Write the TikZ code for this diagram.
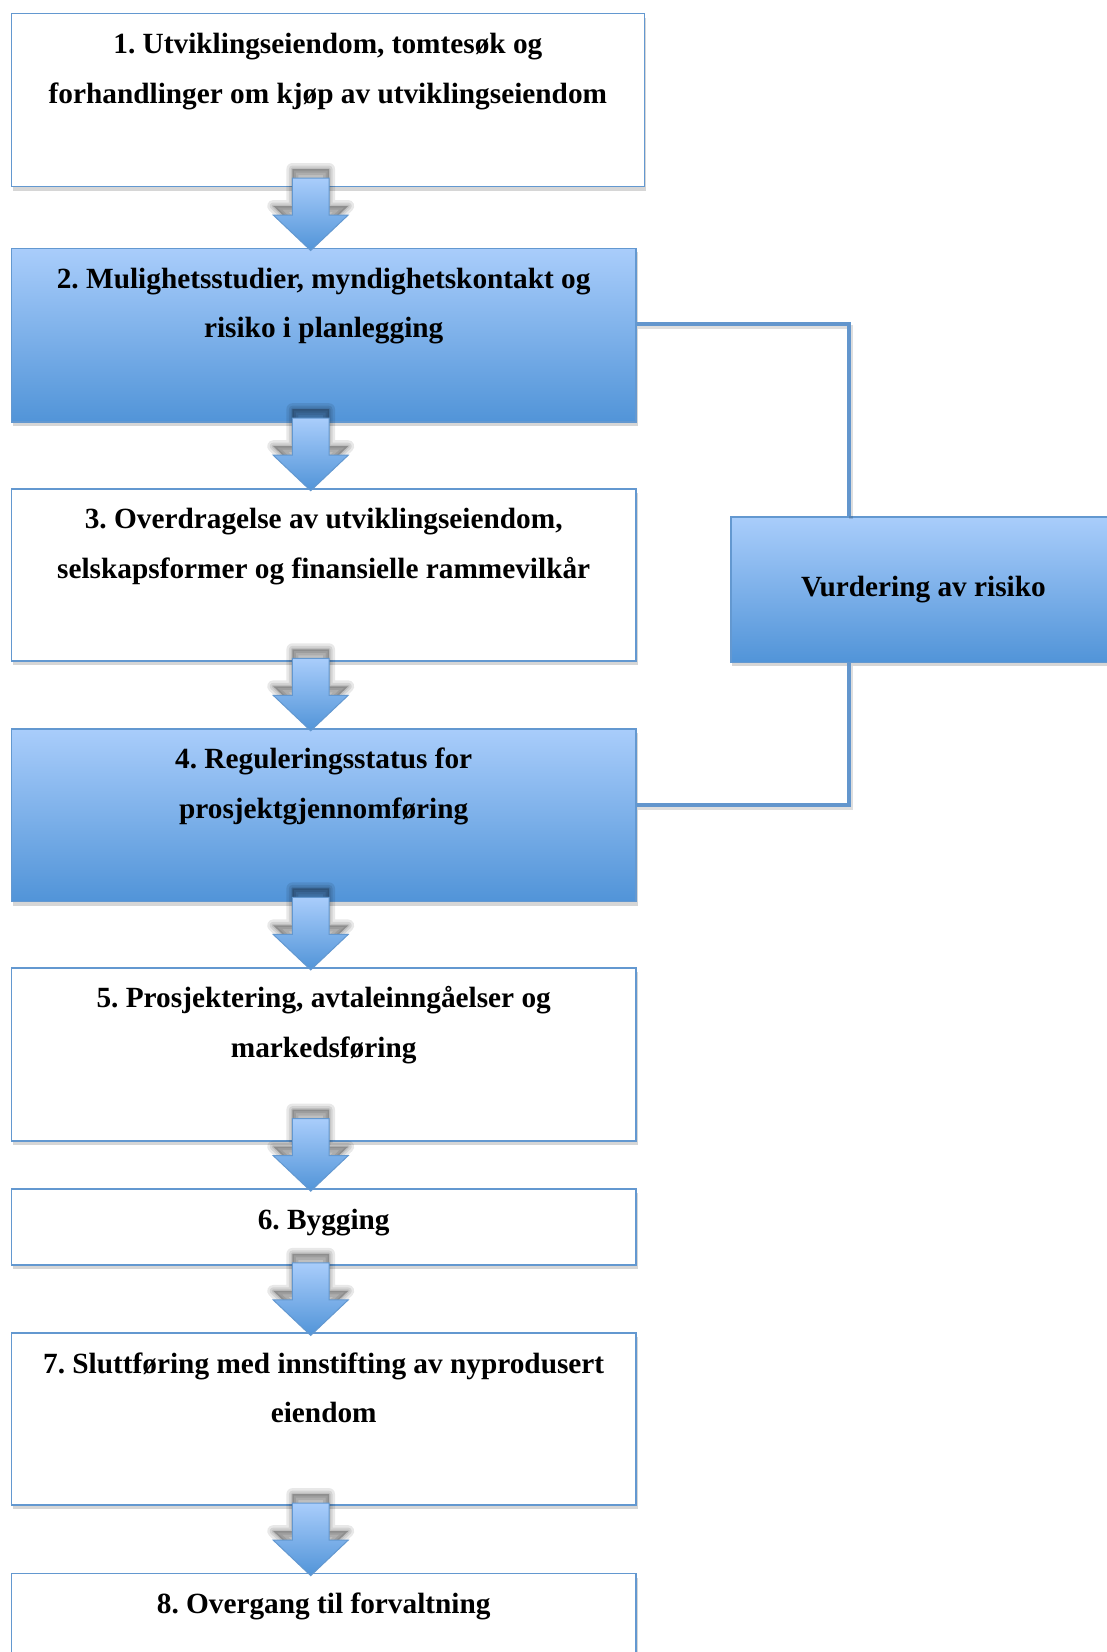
\documentclass[tikz,border=0pt]{standalone}
\usepackage{fontspec}
\setmainfont{Liberation Serif}
\usetikzlibrary{calc,shadows}
\definecolor{bordc}{HTML}{6398D0}
\definecolor{gtop}{HTML}{A9CDFB}
\definecolor{gbot}{HTML}{5194D8}
\definecolor{linec}{HTML}{6396CD}
\newcommand\boxtext[3]{\parbox[t][#2pt][t]{#1pt}{\frenchspacing\centering\rule{0pt}{40pt}#3}}
\newcommand\arrowshape{-- ++(-37.5,-35.5) -- ++(19.2,0) -- ++(0,-37) -- ++(36.6,0) -- ++(0,37) -- ++(19.2,0) -- cycle}
\newcommand\barrow[1]{%
  \path (ax |- #1.north) coordinate (tp);
  \foreach \w in {12,7,3}{%
    \filldraw[black, opacity=0.09, line width=\w pt, line join=round] ([yshift=6pt]tp) \arrowshape;
  }
  \draw[draw=bordc, line width=1pt, top color=gtop, bottom color=gbot] ([yshift=-3pt]tp) \arrowshape;
}
\begin{document}
\begin{tikzpicture}[x=1pt,y=-1pt,
  txt/.style={font=\bfseries\fontsize{29.3}{49.5}\selectfont, text=black},
  box/.style={txt, draw=bordc, line width=1.8pt, fill=white, inner sep=0pt, anchor=north west,
    drop shadow={shadow xshift=1.5pt, shadow yshift=-4pt, opacity=0.16, fill=black}},
  gbox/.style={box, top color=gtop, bottom color=gbot},
  conn/.style={draw=linec, line width=4pt,
    preaction={draw=black, opacity=0.13, line width=4pt, transform canvas={xshift=1.5pt, yshift=-3pt}}}]
\useasboundingbox (0,0) rectangle (1107,1652);
\fill[white] (0,0) rectangle (1107,1652);
\begin{scope}
\clip (0,0) rectangle (1107,1652);
\coordinate (ax) at (310.7,0);
\coordinate (cx) at (849,0);

\node[box] (b1) at (10.5,12.6) {\boxtext{633}{173}{1. Utviklingseiendom, tomtesøk og\\forhandlinger om kjøp av utviklingseiendom}};
\node[gbox] (b2) at (10.5,247.5) {\boxtext{624.6}{173.8}{2. Mulighetsstudier, myndighetskontakt og\\risiko i planlegging}};
\node[box] (b3) at (10.5,487.7) {\boxtext{624.6}{172.7}{3. Overdragelse av utviklingseiendom,\\selskapsformer og finansielle rammevilkår}};
\node[gbox] (b4) at (10.5,727.8) {\boxtext{624.6}{172.8}{4. Reguleringsstatus for\\prosjektgjennomføring}};
\node[box] (b5) at (10.5,966.9) {\boxtext{624.6}{172.8}{5. Prosjektering, avtaleinngåelser og\\markedsføring}};
\node[box] (b6) at (10.5,1188.1) {\boxtext{624.6}{75.9}{6. Bygging}};
\node[box] (b7) at (10.5,1332.4) {\boxtext{624.6}{171.7}{7. Sluttføring med innstifting av nyprodusert\\eiendom}};
\node[box] (b8) at (10.5,1572.6) {\boxtext{624.6}{180}{8. Overgang til forvaltning}};
\node[gbox, minimum width=385pt, minimum height=145.5pt] (vr) at (730,516) {Vurdering av risiko};

\draw[conn] ([yshift=11pt]b2.east) -| (cx |- vr.north);
\draw[conn] (cx |- vr.south) |- ([yshift=10.5pt]b4.east);

\barrow{b2}
\barrow{b3}
\barrow{b4}
\barrow{b5}
\barrow{b6}
\barrow{b7}
\barrow{b8}
\end{scope}
\end{tikzpicture}
\end{document}
